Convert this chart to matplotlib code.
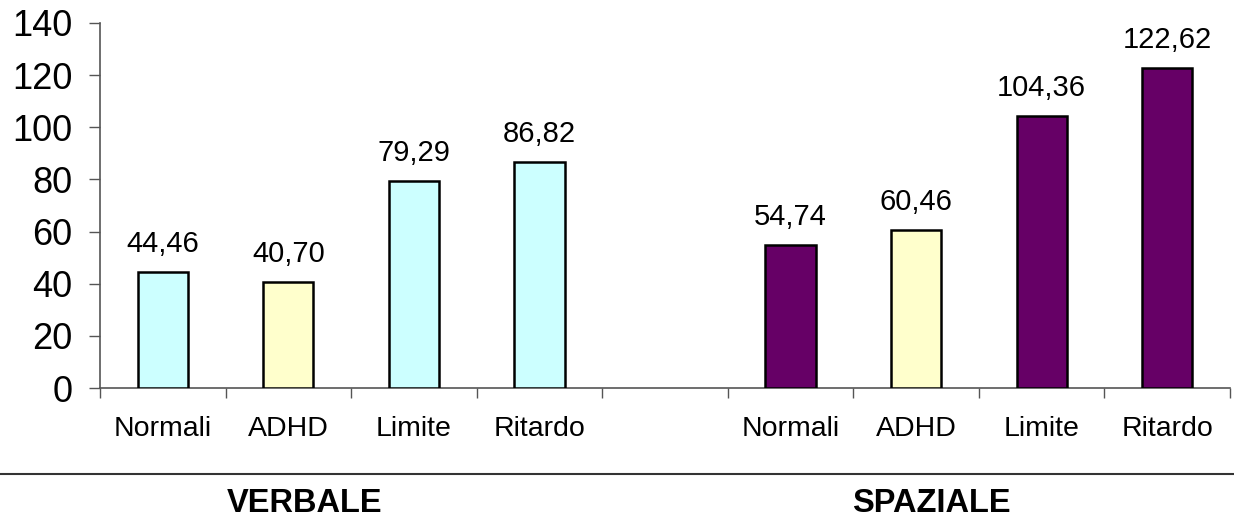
import matplotlib
matplotlib.use("Agg")
import matplotlib.pyplot as plt
from matplotlib.lines import Line2D

plt.rcParams['font.family'] = ['Liberation Sans', 'DejaVu Sans']

categories = ["Normali", "ADHD", "Limite", "Ritardo", "", "Normali", "ADHD", "Limite", "Ritardo"]
values = [44.46, 40.70, 79.29, 86.82, None, 54.74, 60.46, 104.36, 122.62]
value_labels = ["44,46", "40,70", "79,29", "86,82", None, "54,74", "60,46", "104,36", "122,62"]
colors = ["#CCFFFF", "#FFFFCC", "#CCFFFF", "#CCFFFF", None, "#660066", "#FFFFCC", "#660066", "#660066"]
groups = ["VERBALE", "SPAZIALE"]
y_ticks = [0, 20, 40, 60, 80, 100, 120, 140]

W, H = 1234, 522
fig = plt.figure(figsize=(W / 100, H / 100), dpi=100)
ax = fig.add_axes([100 / W, (H - 388) / H, 1130 / W, 365 / H])

for i, (v, c, lab) in enumerate(zip(values, colors, value_labels)):
    if v is None:
        continue
    ax.bar(i, v, width=0.4, color=c, edgecolor="black", linewidth=1.8, zorder=3)
    ax.annotate(lab, (i, v), xytext=(0, 10), textcoords="offset points",
                ha="center", va="bottom", fontsize=21)

ax.set_xlim(-0.5, len(categories) - 0.5)
ax.set_ylim(0, 140)
ax.set_yticks(y_ticks)
ax.set_yticklabels([str(t) for t in y_ticks], fontsize=26)

# boundary ticks between categories, labels at the category centres
ax.set_xticks([i - 0.5 for i in range(len(categories) + 1)])
ax.set_xticklabels([])
ax.set_xticks(range(len(categories)), minor=True)
ax.set_xticklabels(categories, minor=True, fontsize=20.5)
ax.tick_params(axis="x", which="major", length=7, width=1, color="#555555", direction="out")
ax.tick_params(axis="x", which="minor", length=0, pad=20)
ax.tick_params(axis="y", length=8, width=1, color="#555555", pad=12)

for s in ["top", "right"]:
    ax.spines[s].set_visible(False)
for s in ["left", "bottom"]:
    ax.spines[s].set_color("#555555")
    ax.spines[s].set_linewidth(1.2)

# separator line and group titles beneath the axis
fig.add_artist(Line2D([0, 1233 / W], [(H - 473.7) / H] * 2, color="#333333", linewidth=1.5,
                      transform=fig.transFigure))
fig.text(305 / W, (H - 503) / H, groups[0], ha="center", va="center", fontsize=23.5, fontweight="bold")
fig.text(931 / W, (H - 503) / H, groups[1], ha="center", va="center", fontsize=23.5, fontweight="bold")

fig.savefig("out.png", dpi=100)
